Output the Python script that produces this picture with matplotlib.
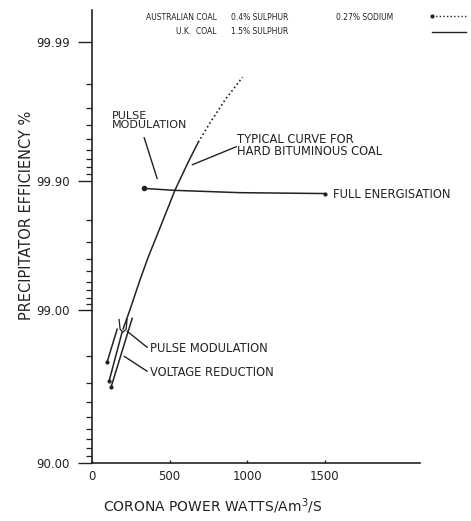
import numpy as np
import matplotlib
matplotlib.use("Agg")
import matplotlib.pyplot as plt
from matplotlib.lines import Line2D

# typical curve, U.K. coal (solid) with Australian coal extension (dotted)
uk_power = [200, 246, 310, 362, 433, 537, 627, 685]
uk_eff = [98.67, 99.02, 99.42, 99.61, 99.76, 99.883, 99.929, 99.947]
aus_power = [685, 763, 860, 970]
aus_eff = [99.947, 99.962, 99.974, 99.982]

# full energisation line
full_power = [336, 530, 950, 1500]
full_eff = [99.885, 99.881, 99.876, 99.874]

# low power pieces (pulse modulation / voltage reduction)
pm_power = [97, 162]
pm_eff = [97.81, 98.67]
vr_power = [110, 194]
vr_eff = [97.09, 98.61]
lo_power = [123, 259]
lo_eff = [96.82, 98.87]
hook_power = [175, 181, 200, 220, 226]
hook_eff = [98.85, 98.67, 98.61, 98.67, 98.85]

ytick_vals = [90.0, 99.0, 99.9, 99.99]
ytick_labels = ["90.00", "99.00", "99.90", "99.99"]
ytick_minor = [91, 92, 93, 94, 95, 96, 97, 98,
               99.1, 99.2, 99.3, 99.4, 99.5, 99.6, 99.7, 99.8,
               99.91, 99.92, 99.93, 99.94, 99.95, 99.96, 99.97, 99.98]
xtick_vals = [0, 500, 1000, 1500]

# efficiency axis: decades of penetration, spacing
DEC = [0, 1, 2, 3, 4, 5]
PIX = [-153, 0, 153, 283, 422, 561]

def fwd(e):
    e = np.asarray(e, dtype=float)
    d = 2 - np.log10(np.clip(100 - e, 1e-6, None))
    return np.interp(d, DEC, PIX)

def inv(p):
    d = np.interp(p, PIX, DEC)
    return 100 - 10 ** (2 - d)

ink = "#222222"
plt.rcParams['font.family'] = ['DejaVu Sans']

fig = plt.figure(figsize=(4.71, 5.21), dpi=100)
ax = fig.add_axes([92/471, 1-463/521, (420-92)/471, (463-10)/521])
ax.set_yscale('function', functions=(fwd, inv))
ax.set_xlim(0, 2114)
ax.set_ylim(90.0, 99.9941)

for s in ['top', 'right']:
    ax.spines[s].set_visible(False)
for s in ['left', 'bottom']:
    ax.spines[s].set_color(ink)
    ax.spines[s].set_linewidth(1.2)

ax.set_yticks(ytick_vals)
ax.set_yticklabels(ytick_labels)
ax.set_yticks(ytick_minor, minor=True)
ax.yaxis.set_minor_formatter(plt.NullFormatter())
ax.tick_params(axis='y', which='major', direction='out', length=10, width=1.0,
               color=ink, labelcolor=ink, labelsize=8.5, pad=6)
ax.tick_params(axis='y', which='minor', direction='out', length=4.5, width=0.9, color=ink)
ax.set_xticks(xtick_vals)
ax.tick_params(axis='x', which='major', direction='in', length=2.5, width=1.0,
               color=ink, labelcolor=ink, labelsize=8.5, pad=5)
ax.tick_params(axis='x', which='minor', length=0)

lw = 1.1
ax.plot(uk_power, uk_eff, color=ink, lw=lw, solid_capstyle='round')
ax.plot(aus_power, aus_eff, color=ink, lw=1.2, ls=(0, (1, 1.6)))
ax.plot(full_power, full_eff, color=ink, lw=lw)
ax.plot(full_power[0], full_eff[0], 'o', color=ink, ms=3)
ax.plot(full_power[-1], full_eff[-1], 'o', color=ink, ms=2)
ax.plot(pm_power, pm_eff, color=ink, lw=lw)
ax.plot(pm_power[0], pm_eff[0], 'o', color=ink, ms=2)
ax.plot(vr_power, vr_eff, color=ink, lw=lw)
ax.plot(vr_power[0], vr_eff[0], 'o', color=ink, ms=2)
ax.plot(lo_power, lo_eff, color=ink, lw=lw)
ax.plot(lo_power[0], lo_eff[0], 'o', color=ink, ms=2)
ax.plot(hook_power, hook_eff, color=ink, lw=0.9)

fs = 8.3
arrow = dict(arrowstyle='-', color=ink, lw=1.0, shrinkA=0, shrinkB=0)
ax.annotate("", xy=(420, 99.903), xytext=(336, 99.951), arrowprops=arrow)
ax.text(129, 99.963, "PULSE\nMODULATION", fontsize=8, color=ink,
        ha='left', va='center', linespacing=0.95)
ax.annotate("", xy=(931, 99.943), xytext=(646, 99.923), arrowprops=arrow)
ax.text(937, 99.944, "TYPICAL CURVE FOR\nHARD BITUMINOUS COAL", fontsize=fs,
        color=ink, ha='left', va='center', linespacing=0.95)
ax.text(1551, 99.872, "FULL ENERGISATION", fontsize=fs, color=ink,
        ha='left', va='center')
ax.annotate("", xy=(356, 98.25), xytext=(226, 98.63), arrowprops=arrow)
ax.text(375, 98.23, "PULSE MODULATION", fontsize=fs, color=ink,
        ha='left', va='center')
ax.annotate("", xy=(356, 97.49), xytext=(207, 98.0), arrowprops=arrow)
ax.text(375, 97.46, "VOLTAGE REDUCTION", fontsize=fs, color=ink,
        ha='left', va='center')

# legend, drawn by hand like the original
lf = 5.5
fig.text(217/471, 1-17/521, "AUSTRALIAN COAL", fontsize=lf, color=ink, ha='right', va='center')
fig.text(231/471, 1-17/521, "0.4% SULPHUR", fontsize=lf, color=ink, ha='left', va='center')
fig.text(336/471, 1-17/521, "0.27% SODIUM", fontsize=lf, color=ink, ha='left', va='center')
fig.text(217/471, 1-32/521, "U.K.  COAL", fontsize=lf, color=ink, ha='right', va='center')
fig.text(231/471, 1-32/521, "1.5% SULPHUR", fontsize=lf, color=ink, ha='left', va='center')
fig.add_artist(Line2D([432/471, 466/471], [1-16/521]*2, color=ink, lw=1.0, ls=(0, (1, 1.6))))
fig.add_artist(Line2D([432/471], [1-16/521], color=ink, marker='o', ms=2))
fig.add_artist(Line2D([432/471, 466/471], [1-32/521]*2, color=ink, lw=1.0))

fig.text(27/471, 1-215/521, "PRECIPITATOR EFFICIENCY %", rotation=90, fontsize=10.5,
         color=ink, ha='center', va='center')
fig.text(213/471, 1-506/521, "CORONA POWER WATTS/Am$^3$/S", fontsize=10,
         color=ink, ha='center', va='center')

fig.savefig("out.png", dpi=100, facecolor='white')
